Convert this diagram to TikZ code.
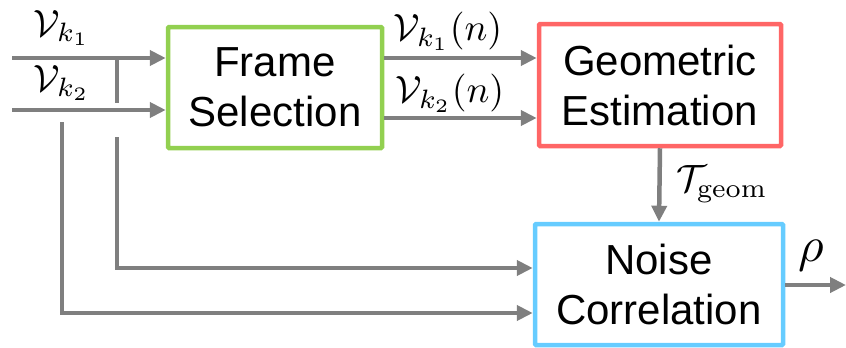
\documentclass[tikz,border=0pt]{standalone}
\usepackage[no-math]{fontspec}
\newfontfamily\boxfont{Liberation Sans}
\usetikzlibrary{arrows.meta,calc}
\definecolor{lgray}{HTML}{7F7F7F}
\definecolor{bgreen}{HTML}{92D050}
\definecolor{bred}{HTML}{FF6666}
\definecolor{bblue}{HTML}{66CCFF}
\begin{document}
\begin{tikzpicture}[x=1pt,y=-1pt,
  blk/.style={draw,line width=4.5pt,rounded corners=1pt,inner sep=0pt,align=center,
    font=\boxfont\fontsize{42}{50}\selectfont},
  conn/.style={draw=lgray,line width=4.5pt},
  arr/.style={conn,-{Triangle[length=16pt,width=15pt]}},
  lab/.style={inner sep=0pt,scale=3.8}]
\useasboundingbox (0,0) rectangle (846,348);
\node[blk,draw=bgreen,minimum width=214pt,minimum height=121pt] (fs) at (275,87.5) {Frame\\Selection};
\node[blk,draw=bred,minimum width=242pt,minimum height=122pt] (ge) at (660,85) {Geometric\\Estimation};
\node[blk,draw=bblue,minimum width=248pt,minimum height=121pt] (nc) at (659,284.5) {Noise\\Correlation};
\coordinate (in1) at (12,58);
\coordinate (in2) at (12,110);
\coordinate (s1) at (117,58);
\coordinate (s2) at (117,103);
\coordinate (b1) at (117,137);
\coordinate (b2) at (62,122);
\coordinate (y1) at (0,268);
\coordinate (y2) at (0,313);
\coordinate (o1) at (0,58);
\coordinate (o2) at (0,118);
\coordinate (out) at (846,285);
\draw[arr] (in1) -- (in1 -| fs.west);
\draw[arr] (in2) -- (in2 -| fs.west);
\draw[conn] (s1) -- (s2);
\draw[arr] (b1) |- (y1 -| nc.west);
\draw[arr] (b2) |- (y2 -| nc.west);
\draw[arr] (o1 -| fs.east) -- (o1 -| ge.west);
\draw[arr] (o2 -| fs.east) -- (o2 -| ge.west);
\draw[arr] (ge.south) -- (nc.north);
\draw[arr] (out -| nc.east) -- (out);
\node[lab] (l1) at (62,28) {$\mathcal{V}_{k_1}$};
\node[lab] (l2) at (62,83) {$\mathcal{V}_{k_2}$};
\node[lab] (l3) at (448,31) {$\mathcal{V}_{k_1}(n)$};
\node[lab] (l4) at (450,93) {$\mathcal{V}_{k_2}(n)$};
\node[lab] (l5) at (722,184) {$\mathcal{T}_{\mathrm{geom}}$};
\node[lab,scale=1.3] (l6) at (811,256) {$\rho$};
\end{tikzpicture}
\end{document}
